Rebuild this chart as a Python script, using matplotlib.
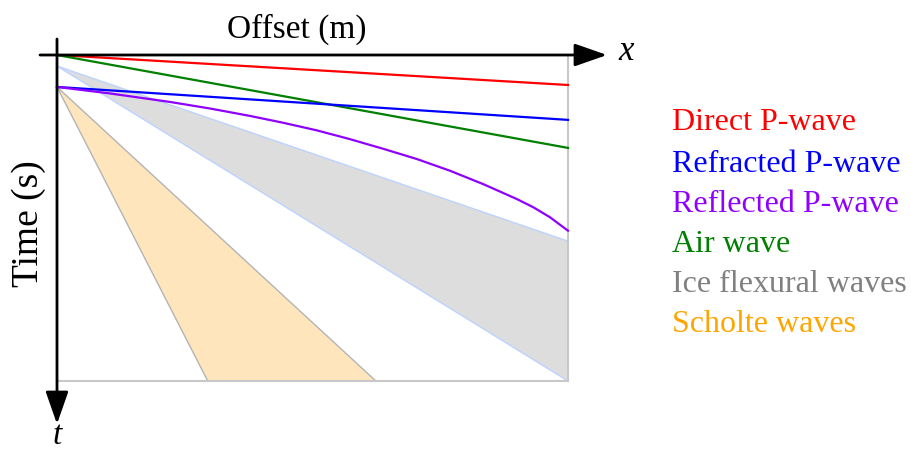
import matplotlib
matplotlib.use("Agg")
import matplotlib.pyplot as plt
from matplotlib.patches import Polygon

# ---- data (normalised offset 0..1, normalised time 0..1, time grows downward) ----
direct_x = [0.0, 1.0]
direct_t = [0.0, 0.092]
air_x = [0.0, 1.0]
air_t = [0.0, 0.285]
refracted_x = [0.0, 1.0]
refracted_t = [0.098, 0.199]
reflected_x = [0.0, 0.104, 0.221, 0.299, 0.378, 0.443, 0.508, 0.573, 0.639,
               0.704, 0.769, 0.834, 0.900, 0.932, 0.965, 1.0]
reflected_t = [0.098, 0.118, 0.144, 0.164, 0.187, 0.208, 0.231, 0.258, 0.288,
               0.319, 0.355, 0.396, 0.442, 0.467, 0.498, 0.539]
ice_x = [0.0, 1.0, 1.0]
ice_t = [0.034, 0.571, 1.0]
scholte_x = [0.0, 0.295, 0.624]
scholte_t = [0.098, 1.0, 1.0]

legend_labels = ["Direct P-wave", "Refracted P-wave", "Reflected P-wave",
                 "Air wave", "Ice flexural waves", "Scholte waves"]
legend_colors = ["#ff0000", "#0000ff", "#8f00ff", "#008000", "#808080", "#ffa500"]

W, H = 912, 452
fig = plt.figure(figsize=(W / 100, H / 100), dpi=100)
L, R, T, B = 57, 568, 56, 382
ax = fig.add_axes([L / W, 1 - B / H, (R - L) / W, (B - T) / H])
ax.set_xlim(0, 1)
ax.set_ylim(1, 0)
ax.set_xticks([])
ax.set_yticks([])
for s in ["left", "top"]:
    ax.spines[s].set_visible(False)
for s in ["right", "bottom"]:
    ax.spines[s].set_color("#c8c8c8")
    ax.spines[s].set_linewidth(1.5)

ax.add_patch(Polygon(list(zip(ice_x, ice_t)), closed=True, facecolor="#dddddd",
                     edgecolor="#bcd3ff", lw=1.0, zorder=1, clip_on=False))
ax.add_patch(Polygon(list(zip(scholte_x, scholte_t)), closed=True, facecolor="#ffe5bc",
                     edgecolor="#b4b4b4", lw=1.0, zorder=1, clip_on=False))

ax.plot(direct_x, direct_t, color=legend_colors[0], lw=1.6, zorder=3, clip_on=False)
ax.plot(air_x, air_t, color=legend_colors[3], lw=1.6, zorder=3, clip_on=False)
ax.plot(refracted_x, refracted_t, color=legend_colors[1], lw=1.6, zorder=3, clip_on=False)
ax.plot(reflected_x, reflected_t, color=legend_colors[2], lw=1.6, zorder=3,
        clip_on=False, solid_joinstyle="round")

# axis arrows
def px2ax(px, py):
    return ((px - L) / (R - L), (py - T) / (B - T))

arrowprops = dict(arrowstyle="-|>,head_length=1.0,head_width=0.35", mutation_scale=20,
                  lw=2.0, color="black", shrinkA=0, shrinkB=0)
ax.annotate("", xy=px2ax(607, 56), xytext=px2ax(40, 56), xycoords="data",
            arrowprops=arrowprops, annotation_clip=False, zorder=5)
ax.annotate("", xy=px2ax(57, 425), xytext=px2ax(57, 40), xycoords="data",
            arrowprops=arrowprops, annotation_clip=False, zorder=5)

serif = ["Liberation Serif", "DejaVu Serif"]
fig.text(297 / W, 1 - 29 / H, "Offset (m)", family=serif, fontsize=24,
         ha="center", va="center")
fig.text(29 / W, 1 - 224 / H, "Time (s)", family=serif, fontsize=27,
         ha="center", va="center", rotation=90)
fig.text(626 / W, 1 - 51 / H, "x", family=serif, style="italic", fontsize=25,
         ha="center", va="center")
fig.text(57 / W, 1 - 436 / H, "t", family=serif, style="italic", fontsize=24,
         ha="center", va="center")

legend_y = [123, 164, 204, 245, 285, 325]
for lab, col, yy in zip(legend_labels, legend_colors, legend_y):
    fig.text(672 / W, 1 - yy / H, lab, family=serif, fontsize=23, color=col,
             ha="left", va="center")

fig.savefig("out.png", dpi=100)
